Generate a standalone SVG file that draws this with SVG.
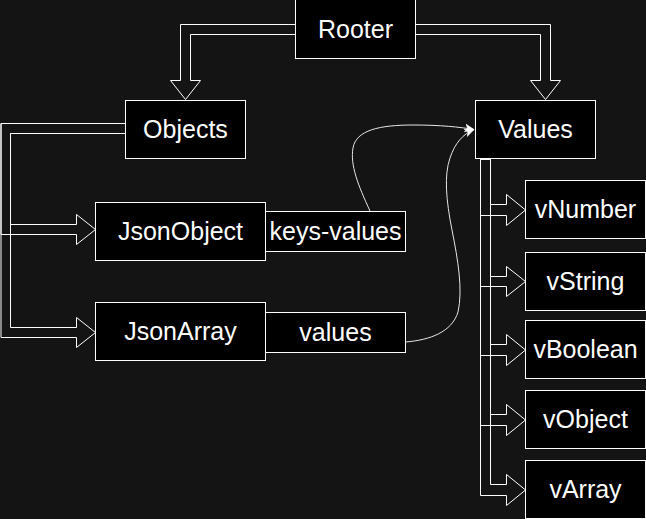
<svg xmlns="http://www.w3.org/2000/svg" width="646" height="519" viewBox="0 0 646 519">
<defs>
<style>
.node rect{fill:#000;stroke:#fff;stroke-width:1}
.node text{fill:#fff;font-family:"Liberation Sans",Arial,Helvetica,sans-serif;font-size:25px;text-anchor:middle}
.flex{fill:none;stroke:#fff;stroke-width:1;stroke-linejoin:miter}
.curve{fill:none;stroke:#e6e6e6;stroke-width:1}
</style>
<marker id="ah" markerUnits="userSpaceOnUse" markerWidth="10" markerHeight="10" refX="9" refY="5" orient="auto">
<path d="M0,1 L9,5 L0,9 L2.5,5 Z" fill="#fff" stroke="#fff" stroke-width="0.5"/>
</marker>
</defs>
<rect x="0" y="0" width="646" height="519" fill="#141414"/>
<g id="connectors">
<path class="flex" d="M295.5,24.5 L180.5,24.5 L180.5,80.5 L170.5,80.5 L185.5,99.5 L200.5,80.5 L190.5,80.5 L190.5,34.5 L295.5,34.5"/>
<path class="flex" d="M415.5,24.5 L550.5,24.5 L550.5,80.5 L560.5,80.5 L545.5,99.5 L530.5,80.5 L540.5,80.5 L540.5,34.5 L415.5,34.5"/>
<path class="flex" d="M125.5,123.5 L1,123.5 L1,234.5 L76.5,234.5 L76.5,244.5 L95.5,229.5 L76.5,214.5 L76.5,224.5 L10.5,224.5 L10.5,133.5 L125.5,133.5"/>
<path class="flex" d="M125.5,123.5 L1,123.5 L1,337.5 L76.5,337.5 L76.5,347.5 L95.5,332.5 L76.5,317.5 L76.5,327.5 L10.5,327.5 L10.5,133.5 L125.5,133.5"/>
<path class="flex" d="M480.5,159 L480.5,215.5 L506.5,215.5 L506.5,225.5 L525.5,210 L506.5,194.5 L506.5,204.5 L490.5,204.5 L490.5,159 Z"/>
<path class="flex" d="M480.5,159 L480.5,286.5 L506.5,286.5 L506.5,296.5 L525.5,281.5 L506.5,266.5 L506.5,276.5 L490.5,276.5 L490.5,159 Z"/>
<path class="flex" d="M480.5,159 L480.5,355.5 L506.5,355.5 L506.5,365.5 L525.5,350 L506.5,334.5 L506.5,344.5 L490.5,344.5 L490.5,159 Z"/>
<path class="flex" d="M480.5,159 L480.5,425.5 L506.5,425.5 L506.5,435.5 L525.5,420 L506.5,404.5 L506.5,414.5 L490.5,414.5 L490.5,159 Z"/>
<path class="flex" d="M480.5,159 L480.5,495.5 L506.5,495.5 L506.5,505.5 L525.5,490 L506.5,474.5 L506.5,484.5 L490.5,484.5 L490.5,159 Z"/>
<path class="curve" d="M370,211 C358,185 350,165 353,148 C356,130 380,125 413,125 C440,125 460,127 474,129.5" marker-end="url(#ah)"/>
<path class="curve" d="M405.5,342 C430,340 452,332 458,312 C463,290 458,260 452,230 C446,200 444,175 450,158 C455,143 463,134 474,129.5" marker-end="url(#ah)"/>
</g>
<g id="rooter" class="node"><rect x="295.5" y="-1" width="120" height="59.5"/><text x="355.5" y="38">Rooter</text></g>
<g id="objects" class="node"><rect x="125.5" y="100.5" width="120" height="58"/><text x="185.5" y="137.5">Objects</text></g>
<g id="values" class="node"><rect x="475.5" y="100.5" width="120" height="58"/><text x="535.5" y="137.5">Values</text></g>
<g id="jsonobject" class="node"><rect x="95.5" y="202.5" width="170" height="58"/><text x="180.5" y="239.5">JsonObject</text></g>
<g id="keys-values" class="node"><rect x="265.5" y="211.5" width="140" height="40"/><text x="335.5" y="239.5">keys-values</text></g>
<g id="jsonarray" class="node"><rect x="95.5" y="302.5" width="170" height="58"/><text x="180.5" y="339.5">JsonArray</text></g>
<g id="values-label" class="node"><rect x="265.5" y="312.5" width="140" height="40"/><text x="335.5" y="340.5">values</text></g>
<g id="vnumber" class="node"><rect x="525.5" y="180.5" width="120" height="58"/><text x="585.5" y="217.5">vNumber</text></g>
<g id="vstring" class="node"><rect x="525.5" y="252.5" width="120" height="58"/><text x="585.5" y="289.5">vString</text></g>
<g id="vboolean" class="node"><rect x="525.5" y="320.5" width="120" height="58"/><text x="585.5" y="357.5">vBoolean</text></g>
<g id="vobject" class="node"><rect x="525.5" y="390.5" width="120" height="58"/><text x="585.5" y="427.5">vObject</text></g>
<g id="varray" class="node"><rect x="525.5" y="460.5" width="120" height="58"/><text x="585.5" y="497.5">vArray</text></g>
</svg>
